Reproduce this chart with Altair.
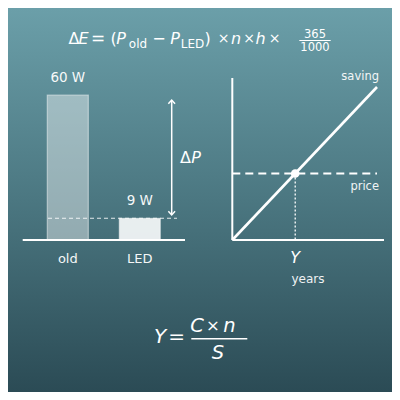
import altair as alt
import pandas as pd

# ---------------- data ----------------
categories = ["old", "LED"]
watts = [60, 9]
watt_labels = ["60 W", "9 W"]

years = [0, 10]
saving = [0, 230]
price = 100

bars = pd.DataFrame({"cat": categories, "watts": watts, "label": watt_labels})
line_df = pd.DataFrame({"years": years, "saving": saving})
payback = price / (saving[1] / years[1])
point_df = pd.DataFrame({"years": [payback], "saving": [price]})

# ---------------- helpers ----------------
OFF = 8          # page margin: reference pixel -> chart pixel
W = H = 384
FONT = "DejaVu Sans"
one = pd.DataFrame({"k": [0]})


def P(v):
    return v - OFF


def txt(s, x, y, size, italic=False, align="center", opacity=1.0):
    return alt.Chart(one).mark_text(
        text=s, font=FONT, fontSize=size,
        fontStyle="italic" if italic else "normal",
        align=align, baseline="alphabetic", color="white", opacity=opacity,
    ).encode(x=alt.value(P(x)), y=alt.value(P(y)))


def hline(x1, x2, y, width=2.0, dash=None, opacity=1.0):
    kw = dict(color="white", strokeWidth=width, opacity=opacity)
    if dash:
        kw["strokeDash"] = dash
    return alt.Chart(one).mark_rule(**kw).encode(
        x=alt.value(P(x1)), x2=alt.value(P(x2)), y=alt.value(P(y)))


def vline(x, y1, y2, width=2.0, dash=None, opacity=1.0):
    kw = dict(color="white", strokeWidth=width, opacity=opacity)
    if dash:
        kw["strokeDash"] = dash
    return alt.Chart(one).mark_rule(**kw).encode(
        x=alt.value(P(x)), y=alt.value(P(y1)), y2=alt.value(P(y2)))


# ---------------- background ----------------
bg = alt.Chart(one).mark_rect(
    fill=alt.LinearGradient(
        gradient="linear",
        stops=[alt.GradientStop(color="#6b9fa9", offset=0),
               alt.GradientStop(color="#4b7781", offset=0.5),
               alt.GradientStop(color="#2b4b55", offset=1)],
        x1=0, x2=0, y1=0, y2=1),
).encode(x=alt.value(0), x2=alt.value(W), y=alt.value(0), y2=alt.value(H))

# ---------------- title formula (centres of each glyph group) ----------------
title = [
    txt("Δ", 74, 44, 16),
    txt("E", 83.5, 44, 16, italic=True),
    txt("=", 98, 44, 17),
    txt("(", 113.5, 44, 16),
    txt("P", 121, 44, 16, italic=True),
    txt("old", 138, 48, 12),
    txt("−", 159, 44, 16),
    txt("P", 175, 44, 16, italic=True),
    txt("LED", 192.5, 48, 12),
    txt(")", 207.5, 44, 16),
    txt("×", 223.5, 43, 14),
    txt("n", 236, 44, 16, italic=True),
    txt("×", 249, 43, 14),
    txt("h", 260.5, 44, 16, italic=True),
    txt("×", 274.5, 43, 14),
    txt("365", 315, 38, 11.5),
    hline(299.3, 330.7, 40.5, width=1),
    txt("1000", 315, 50.5, 11.5),
]

# ---------------- left panel: power bars ----------------
xb = alt.X("cat:N", axis=None,
           scale=alt.Scale(domain=categories, range=[P(31.8), P(175.8)],
                           paddingInner=0.43, paddingOuter=0.215))
yb = alt.Y("watts:Q", axis=None,
           scale=alt.Scale(domain=[0, 60], range=[P(240), P(95)]))

bar_marks = alt.Chart(bars).mark_bar(
    color="white", stroke="white", strokeWidth=1.2, strokeOpacity=0.45,
).encode(
    x=xb, y=yb,
    fillOpacity=alt.FillOpacity("cat:N", legend=None,
                                scale=alt.Scale(domain=categories, range=[0.42, 0.88])),
)
bar_vals = alt.Chart(bars).mark_text(
    dy=-17, baseline="middle", font=FONT, fontSize=13.5, color="white", opacity=0.95,
).encode(x=xb, y=yb, text="label:N")
bar_cats = alt.Chart(bars).mark_text(
    baseline="alphabetic", font=FONT, fontSize=13, color="white", opacity=0.95,
).encode(x=xb, y=alt.value(P(263)), text="cat:N")
led_level = alt.Chart(bars).transform_filter(alt.datum.cat == "LED").mark_rule(
    color="white", strokeWidth=1, strokeDash=[4, 3], opacity=0.85,
).encode(y=yb, x=alt.value(P(48)), x2=alt.value(P(177)))

left = alt.layer(bar_marks, led_level, bar_vals, bar_cats)

baseline_rule = hline(22.7, 185, 240, width=2)

arrow_x = 171.7
arrow = [
    vline(arrow_x, 100, 215, width=1.5),
    alt.Chart(one).mark_point(shape="M -1 1.1 L 0 0 L 1 1.1", filled=False,
                              color="white", strokeWidth=1.5, size=45, opacity=1)
    .encode(x=alt.value(P(arrow_x)), y=alt.value(P(100))),
    alt.Chart(one).mark_point(shape="M -1 -1.1 L 0 0 L 1 -1.1", filled=False,
                              color="white", strokeWidth=1.5, size=45, opacity=1)
    .encode(x=alt.value(P(arrow_x)), y=alt.value(P(215))),
    txt("Δ", 185.5, 163, 16),
    txt("P", 196, 163, 16, italic=True),
]

# ---------------- right panel: payback ----------------
xr = alt.X("years:Q", axis=None,
           scale=alt.Scale(domain=[0, 10], range=[P(232.3), P(377)]))
yr = alt.Y("saving:Q", axis=None,
           scale=alt.Scale(domain=[0, 230], range=[P(240), P(87)]))

saving_line = alt.Chart(line_df).mark_line(color="white", strokeWidth=2.6).encode(x=xr, y=yr)
price_rule = alt.Chart(point_df).mark_rule(
    color="white", strokeWidth=2, strokeDash=[8, 5],
).encode(y=yr, x=alt.value(P(232.3)), x2=alt.value(P(377)))
drop_rule = alt.Chart(point_df).mark_rule(
    color="white", strokeWidth=1.3, strokeDash=[2, 2],
).encode(x=xr, y=yr, y2=alt.value(P(240)))
cross_pt = alt.Chart(point_df).mark_point(
    filled=True, color="white", size=75, opacity=1,
).encode(x=xr, y=yr)
y_label = alt.Chart(point_df).mark_text(
    text="Y", font=FONT, fontSize=16, fontStyle="italic", baseline="alphabetic",
    color="white",
).encode(x=xr, y=alt.value(P(263)))

right = alt.layer(price_rule, drop_rule, saving_line, cross_pt, y_label)

right_axes = [
    vline(232.3, 78, 240, width=2),
    hline(232.3, 384, 240, width=2),
    txt("saving", 379, 79.5, 11.5, align="right", opacity=0.92),
    txt("price", 379, 189.5, 11.5, align="right", opacity=0.92),
    txt("years", 308, 283, 12, opacity=0.92),
]

# ---------------- bottom formula ----------------
bottom = [
    txt("Y", 160, 343, 20, italic=True),
    txt("=", 176.5, 343, 20),
    txt("C", 197, 332, 19.5, italic=True),
    txt("×", 213, 331, 16.5),
    txt("n", 229.5, 332, 19.5, italic=True),
    hline(191.3, 247.3, 338.7, width=1.5),
    txt("S", 218, 359, 19.5, italic=True),
]

chart = alt.layer(
    bg, *title, left, baseline_rule, *arrow, right, *right_axes, *bottom,
).resolve_scale(
    x="independent", y="independent",
).properties(
    width=W, height=H, padding=0, autosize="none",
).configure_view(stroke=None)

chart.save("out.html", embed_options={"renderer": "svg", "actions": False})
